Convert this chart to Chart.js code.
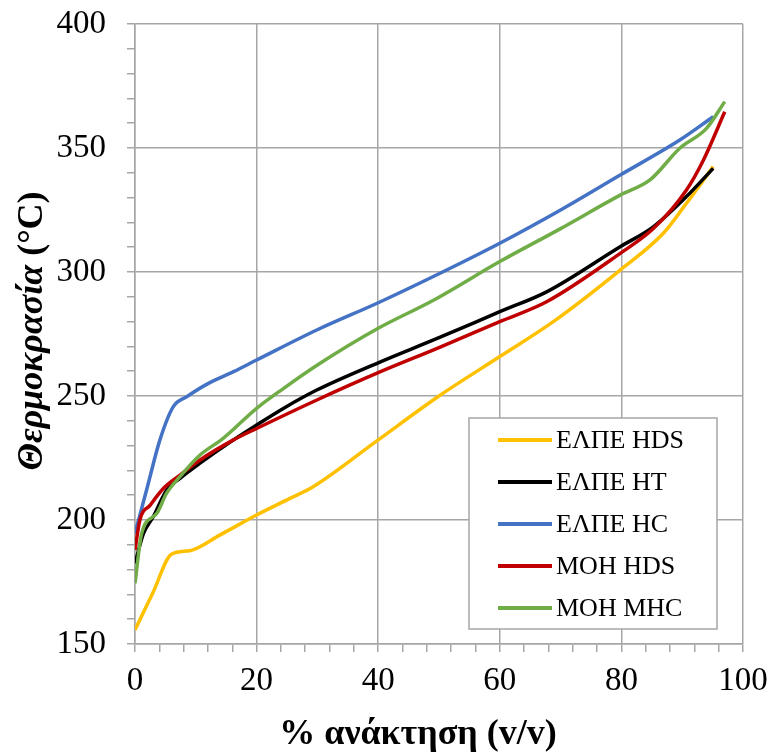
<!DOCTYPE html>
<html>
<head>
<meta charset="utf-8">
<script src="https://cdn.jsdelivr.net/npm/chart.js@4/dist/chart.umd.min.js"></script>
<style>
  html, body { margin: 0; padding: 0; background: #fff; }
  #wrap { width: 771px; height: 755px; position: relative; }
</style>
</head>
<body>
<div id="wrap"><canvas id="c" width="771" height="755"></canvas></div>
<script>
// Distillation curves: temperature vs % recovered
const seriesLabels = ['ΕΛΠΕ HDS', 'ΕΛΠΕ HT', 'ΕΛΠΕ HC', 'ΜΟΗ HDS', 'ΜΟΗ ΜΗC'];
const seriesColors = ['#FFC000', '#000000', '#4472C4', '#C00000', '#70AD47'];

const elpeHdsX = [0, 3, 6, 9, 14, 20, 25.5, 29.3, 40, 50, 60, 68.8, 79.8, 86.9, 90.7, 95.1];
const elpeHdsY = [155.6, 171, 186.2, 187.6, 194, 202, 208.7, 213.4, 232.3, 250, 265.9, 280, 300.8, 315.6, 327.7, 342.5];

const elpeHtX = [0, 1.4, 3, 5.2, 7.4, 10.7, 16.2, 20, 24.4, 29.9, 40, 50, 60, 67.7, 79.8, 85.3, 90.7, 95.1];
const elpeHtY = [182.5, 194.6, 201.3, 212, 216.8, 222.9, 232.3, 238.3, 245, 252.4, 263.4, 273.5, 284, 292, 310.2, 318.3, 330.4, 341.8];

const elpeHcX = [0, 2, 4.1, 6.3, 8.5, 12, 16.2, 20, 29.9, 40, 50, 60, 70, 79.8, 89.6, 95.1];
const elpeHcY = [194.6, 213, 232.3, 245.7, 249.7, 255, 259.8, 264.5, 276.6, 287.6, 299.3, 311.6, 325, 339.1, 353.2, 362.6];

const mohHdsX = [0, 0.8, 2.5, 4.7, 7.4, 10.7, 16.2, 20, 30, 40, 50, 60, 67.7, 79.8, 85.3, 90.7, 93.5, 97];
const mohHdsY = [187.9, 200, 206, 212.8, 218.1, 224.2, 232.3, 236.9, 248.5, 259.4, 269.5, 280, 288, 307.5, 317.6, 333.1, 345.2, 364.6];

const mohMhcX = [0, 1.1, 3.6, 5.2, 7.4, 10.7, 14.5, 20, 24.4, 30, 40, 49, 60, 70, 79.8, 84.7, 89.6, 94, 97];
const mohMhcY = [174.5, 194.6, 202.7, 210.8, 217.5, 226.2, 232.9, 245, 253, 262.5, 277.3, 288.5, 304.2, 317.5, 331, 337.1, 349.9, 357.9, 368.7];

const xTitle = '% ανάκτηση (v/v)';
const yTitleItalic = 'Θερμοκρασία';
const yTitleRest = ' (°C)';

const seriesX = [elpeHdsX, elpeHtX, elpeHcX, mohHdsX, mohMhcX];
const seriesY = [elpeHdsY, elpeHtY, elpeHcY, mohHdsY, mohMhcY];

const FONT = '"Liberation Serif", "Times New Roman", serif';
const GRID = '#a6a6a6';

const datasets = seriesLabels.map((label, i) => ({
  label,
  data: seriesX[i].map((x, k) => ({ x, y: seriesY[i][k] })),
  borderColor: seriesColors[i],
  backgroundColor: seriesColors[i],
  borderWidth: 3.5,
  pointRadius: 0,
  showLine: true,
  cubicInterpolationMode: 'monotone',
  order: seriesLabels.length - i
}));

// Axis titles and the in-plot legend
const decorations = {
  id: 'decorations',
  afterDraw(chart) {
    const ctx = chart.ctx;
    ctx.save();
    ctx.fillStyle = '#000';
    ctx.textBaseline = 'middle';

    // x title
    ctx.font = 'bold 36px ' + FONT;
    ctx.textAlign = 'center';
    ctx.fillText(xTitle, 418, 735);

    // y title (rotated, mixed italic / upright)
    const fItal = 'italic bold 36px ' + FONT;
    const fBold = 'bold 36px ' + FONT;
    ctx.font = fItal;
    const w1 = ctx.measureText(yTitleItalic).width;
    ctx.font = fBold;
    const w2 = ctx.measureText(yTitleRest).width;
    const total = w1 + w2;
    ctx.translate(33, 331);
    ctx.rotate(-Math.PI / 2);
    ctx.textAlign = 'left';
    ctx.font = fItal;
    ctx.fillText(yTitleItalic, -total / 2, 0);
    ctx.font = fBold;
    ctx.fillText(yTitleRest, -total / 2 + w1, 0);
    ctx.restore();

    // legend box
    ctx.save();
    const bx = 469, by = 418, bw = 248, bh = 211;
    ctx.fillStyle = '#fff';
    ctx.fillRect(bx, by, bw, bh);
    ctx.strokeStyle = GRID;
    ctx.lineWidth = 1.5;
    ctx.strokeRect(bx, by, bw, bh);
    ctx.font = '26px ' + FONT;
    ctx.textAlign = 'left';
    ctx.textBaseline = 'middle';
    chart.data.datasets.forEach((ds, i) => {
      const y = 440 + i * 42;
      ctx.strokeStyle = ds.borderColor;
      ctx.lineWidth = 4;
      ctx.beginPath();
      ctx.moveTo(498, y);
      ctx.lineTo(552, y);
      ctx.stroke();
      ctx.fillStyle = '#000';
      ctx.fillText(ds.label, 556, y + 1);
    });
    ctx.restore();
  }
};

const noOverflow = s => {
  s.paddingTop = 0;
  s.paddingBottom = 0;
  s.paddingLeft = 0;
  s.paddingRight = 0;
};

new Chart(document.getElementById('c'), {
  type: 'scatter',
  data: { datasets },
  plugins: [decorations],
  options: {
    responsive: false,
    animation: false,
    devicePixelRatio: 1,
    layout: { padding: { left: 0, right: 28, top: 24, bottom: 0 } },
    plugins: { legend: { display: false }, tooltip: { enabled: false } },
    scales: {
      x: {
        type: 'linear',
        min: 0, max: 100,
        ticks: {
          stepSize: 4,
          autoSkip: false,
          maxRotation: 0,
          color: '#000',
          font: { family: FONT, size: 33 },
          padding: 10,
          callback: v => (v % 20 === 0 ? String(v) : '')
        },
        grid: {
          color: ctx => (ctx.tick && ctx.tick.value % 20 === 0 ? GRID : 'rgba(0,0,0,0)'),
          tickColor: GRID,
          tickLength: 8,
          lineWidth: 1.5
        },
        border: { color: GRID, width: 1.5 },
        afterFit: s => { s.height = 111; noOverflow(s); }
      },
      y: {
        type: 'linear',
        min: 150, max: 400,
        ticks: {
          stepSize: 10,
          autoSkip: false,
          color: '#000',
          font: { family: FONT, size: 33 },
          padding: 21,
          callback: v => (v % 50 === 0 ? String(v) : '')
        },
        grid: {
          color: ctx => (ctx.tick && ctx.tick.value % 50 === 0 ? GRID : 'rgba(0,0,0,0)'),
          tickColor: GRID,
          tickLength: 8,
          lineWidth: 1.5
        },
        border: { color: GRID, width: 1.5 },
        afterFit: s => { s.width = 135; noOverflow(s); }
      }
    }
  }
});
</script>
</body>
</html>
